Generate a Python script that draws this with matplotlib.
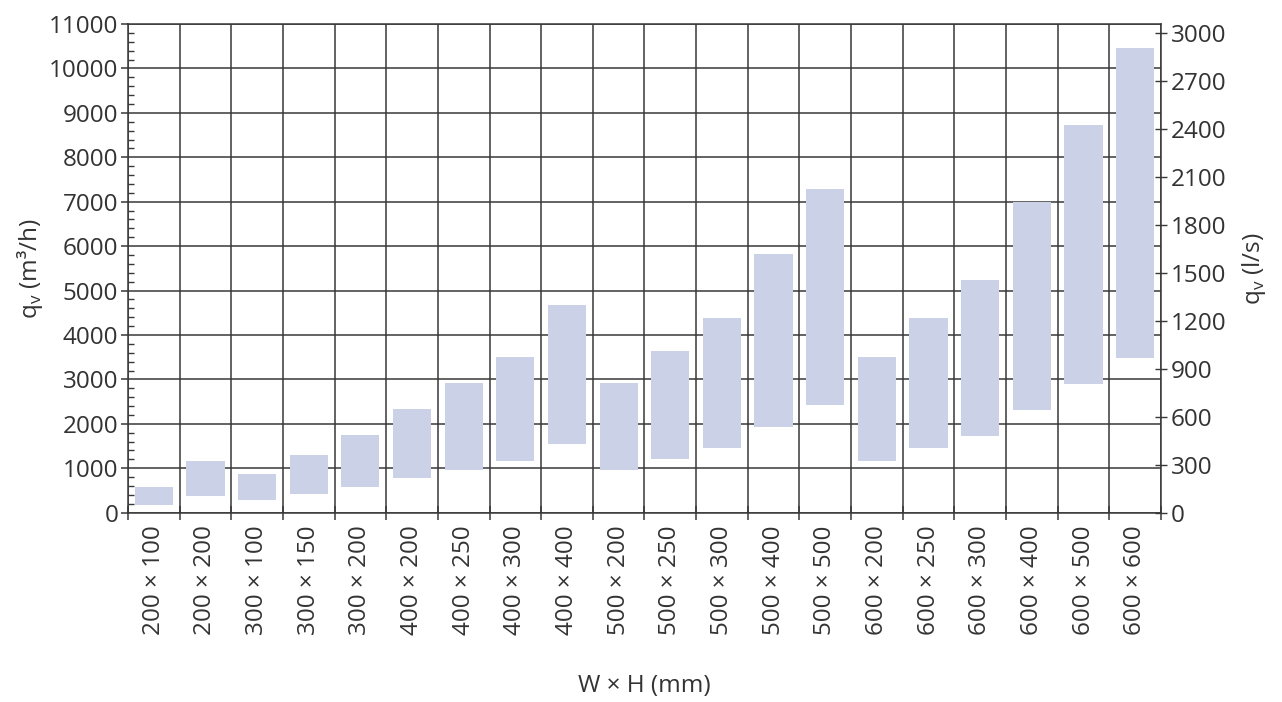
import numpy as np
import matplotlib.pyplot as plt
from matplotlib.ticker import MultipleLocator, FixedLocator

plt.rcParams['font.family'] = ['Open Sans', 'DejaVu Sans']

# duct sizes and airflow range (m3/h)
sizes = ['200 × 100', '200 × 200', '300 × 100', '300 × 150', '300 × 200',
         '400 × 200', '400 × 250', '400 × 300', '400 × 400', '500 × 200',
         '500 × 250', '500 × 300', '500 × 400', '500 × 500', '600 × 200',
         '600 × 250', '600 × 300', '600 × 400', '600 × 500', '600 × 600']
q_min = [170, 370, 290, 430, 580, 770, 970, 1160, 1550, 970,
         1210, 1460, 1930, 2430, 1160, 1460, 1730, 2320, 2900, 3490]
q_max = [580, 1160, 870, 1300, 1750, 2330, 2920, 3500, 4670, 2920,
         3640, 4380, 5820, 7280, 3500, 4380, 5230, 7000, 8720, 10470]

text_col = '#333333'
bar_col = '#cbd1e6'
grid_col = '#383838'
fs = 17.5

fig = plt.figure(figsize=(12.82, 7.02), dpi=100)
ax = fig.add_axes([0.0998, 0.2697, 0.8058, 0.6961])

x = np.arange(len(sizes))
heights = np.array(q_max) - np.array(q_min)
ax.bar(x, heights, bottom=q_min, width=0.74, color=bar_col, zorder=3)

ax.set_xlim(-0.5, len(sizes) - 0.5)
ax.set_ylim(0, 11000)

# horizontal grid every 1000, vertical grid between categories
ax.yaxis.set_major_locator(MultipleLocator(1000))
ax.yaxis.set_minor_locator(MultipleLocator(200))
ax.xaxis.set_major_locator(FixedLocator(x))
ax.xaxis.set_minor_locator(FixedLocator(np.arange(-0.5, len(sizes), 1.0)))
ax.set_xticklabels(sizes, rotation=90, fontsize=fs, color=text_col)
ax.grid(axis='y', which='major', color=grid_col, lw=1.1, zorder=1)
ax.grid(axis='x', which='minor', color=grid_col, lw=1.1, zorder=1)

ax.tick_params(axis='x', which='major', length=0, pad=9)
ax.tick_params(axis='x', which='minor', direction='inout', length=10,
               color=grid_col, width=1.1)
ax.tick_params(axis='y', which='major', direction='out', length=5,
               color=grid_col, width=1.1, labelsize=fs, labelcolor=text_col, pad=2)
ax.tick_params(axis='y', which='minor', direction='in', length=4,
               color=grid_col, width=1)

for s in ax.spines.values():
    s.set_color(grid_col)
    s.set_linewidth(1.1)

ax.set_ylabel('q$_\\mathregular{v}$ (m³/h)', fontsize=fs, color=text_col, labelpad=3)
ax.set_xlabel('W × H (mm)', fontsize=fs, color=text_col, labelpad=28)

# secondary axis in l/s
ax2 = ax.twinx()
ax2.set_ylim(0, 11000 / 3.6)
ax2.yaxis.set_major_locator(MultipleLocator(300))
ax2.tick_params(axis='y', direction='inout', length=8, color=grid_col,
                width=1, labelsize=fs, labelcolor=text_col, pad=3)
for s in ax2.spines.values():
    s.set_visible(False)
ax2.set_ylabel('q$_\\mathregular{v}$ (l/s)', fontsize=fs, color=text_col, labelpad=10)

fig.savefig('out.png', dpi=100)
